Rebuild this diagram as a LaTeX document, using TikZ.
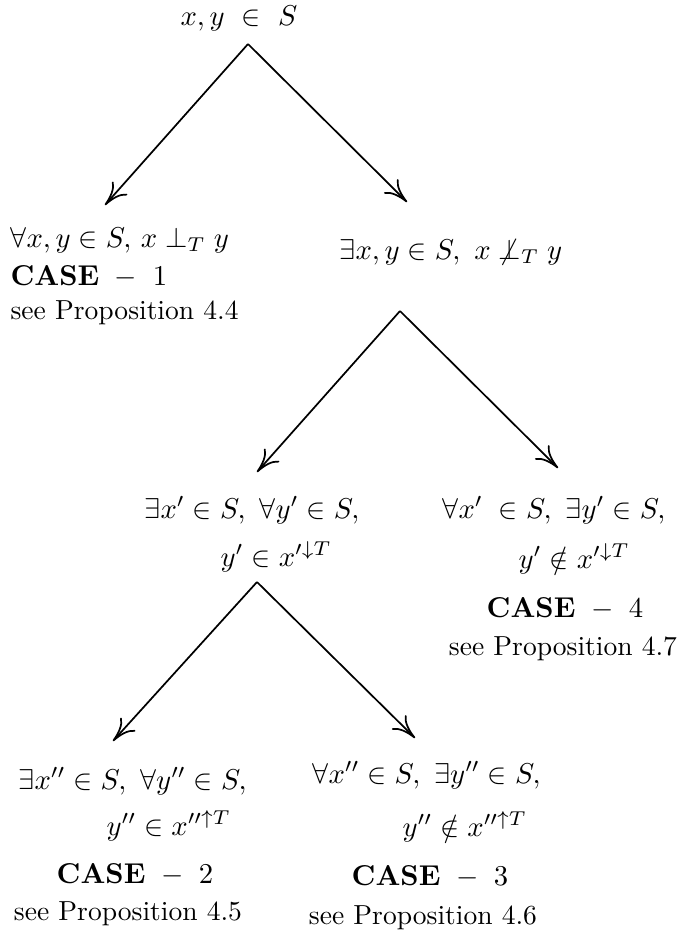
\documentclass[tikz,border=0pt]{standalone}
\usetikzlibrary{arrows.meta}
\begin{document}
\begin{tikzpicture}[x=0.3485pt,y=-0.3485pt,
  every node/.style={font=\fontsize{9.6pt}{11pt}\selectfont},
  lt/.style={inner sep=0pt,anchor=base west},
  ct/.style={inner sep=0pt,anchor=base},
  rt/.style={inner sep=0pt,anchor=base east},
  arr/.style={-{To[length=8pt,width=7pt]},line width=0.6pt}]
\useasboundingbox (0,0) rectangle (678,946);
% root
\node[ct] (root) at (239,25) {$x,y\ \in\ S$};
\coordinate (ap1) at (248,44);
\coordinate (t1l) at (105,205);
\coordinate (t1r) at (407,202);
% case 1
\node[lt] (c1a) at (10,247) {$\forall x,y\in S,\, x\perp_T y$};
\node[lt] (c1b) at (10,285) {$\mathbf{CASE}\ -\ 1$};
\node[lt] (c1c) at (10,319) {see Proposition 4.4};
% right level 1
\node[lt] (r1) at (339,259) {$\exists x,y\in S,\ x\not\perp_T y$};
\coordinate (ap2) at (400,311);
\coordinate (t2l) at (257,472);
\coordinate (t2r) at (558,468);
% level 2 left
\node[rt] (l2a) at (360,518) {$\exists x'\in S,\ \forall y'\in S,$};
\node[lt] (l2b) at (220,566) {$y'\in x'^{\downarrow T}$};
\coordinate (ap3) at (257,582);
\coordinate (t3l) at (113,741);
\coordinate (t3r) at (415,738);
% case 4
\node[rt] (c4a) at (666,518) {$\forall x'\;\in S,\ \exists y'\in S,$};
\node[lt] (c4b) at (518,568) {$y'\notin x'^{\downarrow T}$};
\node[ct] (c4c) at (565,617) {$\mathbf{CASE}\ -\ 4$};
\node[ct] (c4d) at (563,655) {see Proposition 4.7};
% case 2
\node[lt] (c2a) at (18,789) {$\exists x''\in S,\ \forall y''\in S,$};
\node[lt] (c2b) at (106,835) {$y''\in x''^{\uparrow T}$};
\node[ct] (c2c) at (135,883) {$\mathbf{CASE}\ -\ 2$};
\node[ct] (c2d) at (128,920) {see Proposition 4.5};
% case 3
\node[lt] (c3a) at (312,783) {$\forall x''\in S,\ \exists y''\in S,$};
\node[lt] (c3b) at (402,836) {$y''\notin x''^{\uparrow T}$};
\node[ct] (c3c) at (430,885) {$\mathbf{CASE}\ -\ 3$};
\node[ct] (c3d) at (423,924) {see Proposition 4.6};
% arrows
\draw[arr] (ap1) -- (t1l);
\draw[arr] (ap1) -- (t1r);
\draw[arr] (ap2) -- (t2l);
\draw[arr] (ap2) -- (t2r);
\draw[arr] (ap3) -- (t3l);
\draw[arr] (ap3) -- (t3r);
\end{tikzpicture}
\end{document}
